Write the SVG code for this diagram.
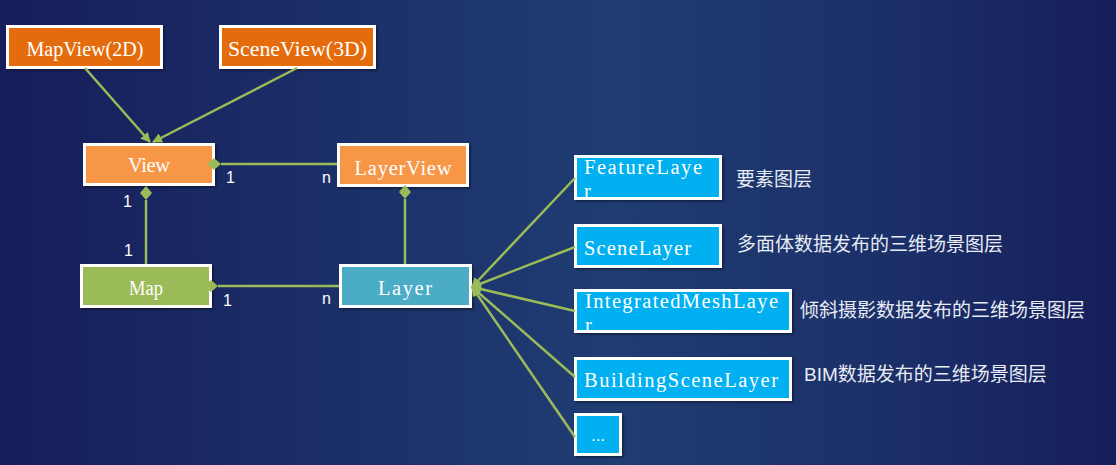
<svg xmlns="http://www.w3.org/2000/svg" width="1116" height="465" viewBox="0 0 1116 465">
<defs>
<linearGradient id="bg" x1="0" y1="0" x2="1" y2="0">
<stop offset="0" stop-color="#161e5a"/>
<stop offset="0.3" stop-color="#1b2f68"/>
<stop offset="0.55" stop-color="#1f3d72"/>
<stop offset="0.8" stop-color="#1b2f68"/>
<stop offset="1" stop-color="#161e5a"/>
</linearGradient>
<filter id="sh" x="-10%" y="-20%" width="130%" height="150%">
<feDropShadow dx="1.5" dy="1.5" stdDeviation="1.2" flood-color="#000" flood-opacity="0.45"/>
</filter>
<marker id="arr" viewBox="0 0 10 10" refX="9" refY="5" markerWidth="10" markerHeight="10" markerUnits="userSpaceOnUse" orient="auto">
<path d="M0,0 L10,5 L0,10 z" fill="#9bbb59"/>
</marker>
<marker id="dia" viewBox="0 0 14 12" refX="0" refY="6" markerWidth="14" markerHeight="12" markerUnits="userSpaceOnUse" orient="auto">
<path d="M0,6 L7,0 L14,6 L7,12 z" fill="#9bbb59"/>
</marker>
<clipPath id="cF"><rect x="577" y="158" width="142" height="39"/></clipPath>
<clipPath id="cI"><rect x="577" y="292" width="212" height="38"/></clipPath>
</defs>
<style>
.box{stroke:#fff;stroke-width:3;filter:url(#sh)}
.t{font-family:"Liberation Serif","Times New Roman",serif;font-size:20.5px;fill:#fff}
.c{text-anchor:middle}
.lbl{font-family:"Liberation Sans","Noto Sans CJK SC",sans-serif;font-size:16px;fill:#fff}
.desc{font-family:"Liberation Sans","Noto Sans CJK SC",sans-serif;font-size:19px;fill:#e8ecf4}
.ln{stroke:#9bbb59;stroke-width:2.5;fill:none}
</style>
<rect width="1116" height="465" fill="url(#bg)"/>

<g id="mapview"><rect class="box" x="7.5" y="26.5" width="154" height="41" fill="#e46c0a"/><text class="t c" x="85" y="56" textLength="117" lengthAdjust="spacingAndGlyphs">MapView(2D)</text></g>
<g id="sceneview"><rect class="box" x="220.5" y="26.5" width="154" height="41" fill="#e46c0a"/><text class="t c" x="297.5" y="56" textLength="139" lengthAdjust="spacingAndGlyphs">SceneView(3D)</text></g>
<g id="view"><rect class="box" x="84.5" y="144.5" width="129" height="40" fill="#f79646"/><text class="t c" x="149" y="172" textLength="42" lengthAdjust="spacing">View</text></g>
<g id="layerview"><rect class="box" x="338.5" y="144.5" width="129" height="41" fill="#f79646"/><text class="t c" x="403" y="175" textLength="97" lengthAdjust="spacing">LayerView</text></g>
<g id="map"><rect class="box" x="81.5" y="265.5" width="129" height="41" fill="#9bbb59"/><text class="t c" x="146" y="295" textLength="34" lengthAdjust="spacingAndGlyphs">Map</text></g>
<g id="layer"><rect class="box" x="340.5" y="265.5" width="130" height="41" fill="#4bacc6"/><text class="t c" x="405" y="295" textLength="54" lengthAdjust="spacing">Layer</text></g>

<g id="featurelayer"><rect class="box" x="575.5" y="156.5" width="145" height="42" fill="#00b0f0"/><g clip-path="url(#cF)"><text class="t" x="584" y="174" textLength="118" lengthAdjust="spacing">FeatureLaye</text><text class="t" x="584" y="198">r</text></g></g>
<g id="scenelayer"><rect class="box" x="575.5" y="225.5" width="145" height="41" fill="#00b0f0"/><text class="t" x="584" y="255" textLength="107" lengthAdjust="spacing">SceneLayer</text></g>
<g id="integratedmeshlayer"><rect class="box" x="575.5" y="290.5" width="215" height="41" fill="#00b0f0"/><g clip-path="url(#cI)"><text class="t" x="585" y="308" textLength="193" lengthAdjust="spacing">IntegratedMeshLaye</text><text class="t" x="585" y="332">r</text></g></g>
<g id="buildingscenelayer"><rect class="box" x="575.5" y="358.5" width="215" height="41" fill="#00b0f0"/><text class="t" x="584" y="387" textLength="194" lengthAdjust="spacing">BuildingSceneLayer</text></g>
<g id="more"><rect class="box" x="575.5" y="414.5" width="45" height="40" fill="#00b0f0"/><text class="t c" x="598" y="441" style="font-family:'Liberation Sans',sans-serif;font-size:17px">...</text></g>

<g id="connectors">
<line class="ln" x1="85" y1="68" x2="150" y2="142" marker-end="url(#arr)"/>
<line class="ln" x1="297" y1="68" x2="153" y2="142" marker-end="url(#arr)"/>
<line class="ln" x1="337" y1="164" x2="221" y2="164" marker-end="url(#dia)"/>
<line class="ln" x1="146" y1="264" x2="146" y2="200" marker-end="url(#dia)"/>
<line class="ln" x1="405" y1="264" x2="405" y2="199" marker-end="url(#dia)"/>
<line class="ln" x1="339" y1="286" x2="218" y2="286" marker-end="url(#dia)"/>
<line class="ln" x1="575" y1="178" x2="472" y2="287" marker-end="url(#arr)"/>
<line class="ln" x1="575" y1="247" x2="472" y2="287" marker-end="url(#arr)"/>
<line class="ln" x1="575" y1="311" x2="472" y2="287" marker-end="url(#arr)"/>
<line class="ln" x1="575" y1="377" x2="472" y2="287" marker-end="url(#arr)"/>
<line class="ln" x1="575" y1="437" x2="472" y2="287" marker-end="url(#arr)"/>
<text class="lbl" x="226" y="183">1</text>
<text class="lbl" x="322" y="183">n</text>
<text class="lbl" x="123" y="207">1</text>
<text class="lbl" x="124" y="256">1</text>
<text class="lbl" x="223" y="306">1</text>
<text class="lbl" x="322" y="304">n</text>
</g>

<g id="descriptions">
<text class="desc" x="736" y="186">要素图层</text>
<text class="desc" x="737" y="251">多面体数据发布的三维场景图层</text>
<text class="desc" x="800" y="317">倾斜摄影数据发布的三维场景图层</text>
<text class="desc" x="804" y="381">BIM数据发布的三维场景图层</text>
</g>
</svg>
